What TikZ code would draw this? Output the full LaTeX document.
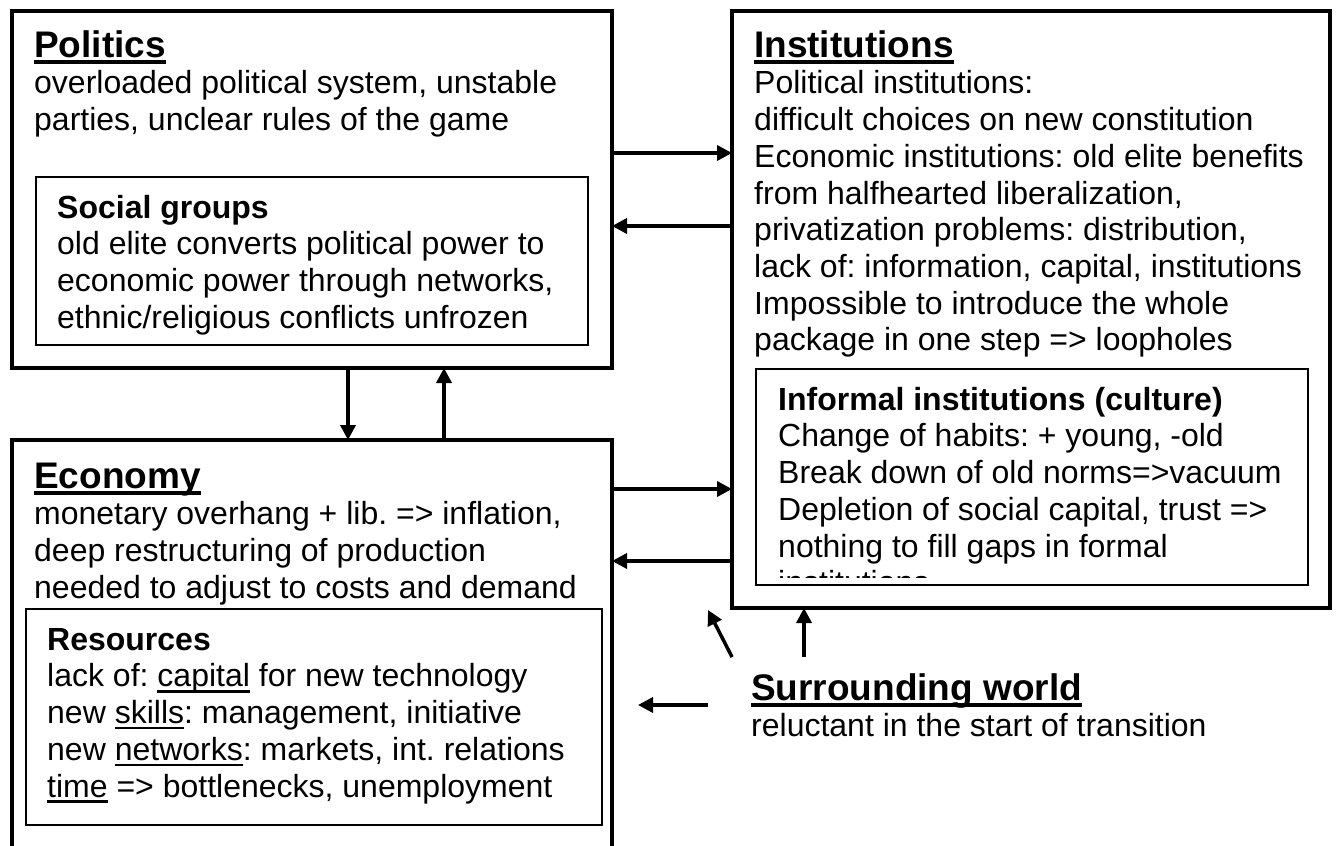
\documentclass[tikz,border=0pt]{standalone}
\usepackage{fontspec}
\setmainfont{Liberation Sans}
\usetikzlibrary{arrows.meta}
\newcommand{\bodyfont}{\fontsize{32pt}{36.7pt}\selectfont\frenchspacing}
\newcommand{\headfont}{\fontsize{37pt}{44pt}\selectfont\bfseries}
\newsavebox{\ulinebox}
\newcommand{\ulword}[3]{\sbox{\ulinebox}{#3}\rlap{\rule[-#1]{\wd\ulinebox}{#2}}\usebox{\ulinebox}}
\newcommand{\heading}[1]{\rule{0pt}{27pt}\ulword{6.75pt}{3.5pt}{\headfont #1}}
\newcommand{\subhead}[1]{\rule{0pt}{24pt}\textbf{#1}}
\newcommand{\ulsmall}[1]{\ulword{5.75pt}{2.5pt}{#1}}
\begin{document}
\begin{tikzpicture}[x=1pt, y=-1pt,
    bigbox/.style={draw, line width=4.5pt, inner sep=0pt, outer sep=0pt, anchor=north west},
    smallbox/.style={draw, line width=2pt, inner sep=0pt, outer sep=0pt, anchor=north west},
    txt/.style={anchor=north west, inner sep=0pt, align=left, font=\bodyfont},
    flow/.style={-{Triangle[length=15pt,width=15pt]}, line width=3.5pt}]
  \useasboundingbox (0,0) rectangle (1337,845);
  \clip (0,0) rectangle (1337,845);
%  \draw[help lines, step=100] (0,0) grid (1337,845);
  \node[bigbox, minimum width=600pt, minimum height=357pt] (pol) at (12,11) {};
  \node[bigbox, minimum width=598pt, minimum height=597pt] (inst) at (732,11) {};
  \node[bigbox, minimum width=600pt, minimum height=460pt] (econ) at (12,440) {};
  \node[smallbox, minimum width=552pt, minimum height=168pt] (soc_groups) at (36,177) {};
  \node[smallbox, minimum width=552pt, minimum height=216pt] (inf_inst) at (756,369) {};
  \node[smallbox, minimum width=576pt, minimum height=216pt] (res) at (26,609) {};

  \node[txt] (pol_txt) at (34,30) {\heading{Politics}\\
    overloaded political system, unstable\\
    parties, unclear rules of the game};
  \node[txt] (soc_txt) at (57,194) {\subhead{Social groups}\\
    old elite converts political power to\\
    economic power through networks,\\
    ethnic/religious conflicts unfrozen};
  \node[txt] (inst_txt) at (754,30) {\heading{Institutions}\\
    Political institutions:\\
    difficult choices on new constitution\\
    Economic institutions: old elite benefits\\
    from halfhearted liberalization,\\
    privatization problems: distribution,\\
    lack of: information, capital, institutions\\
    Impossible to introduce the whole\\
    package in one step => loopholes};
  \begin{scope}
    \clip (756,369) rectangle (1308,577);
    \node[txt] (inf_txt) at (778,386) {\subhead{Informal institutions (culture)}\\
      Change of habits: + young, -old\\
      Break down of old norms=>vacuum\\
      Depletion of social capital, trust =>\\
      nothing to fill gaps in formal\\
      institutions};
  \end{scope}
  \node[txt] (econ_txt) at (34,461) {\heading{Economy}\\
    monetary overhang + lib. => inflation,\\
    deep restructuring of production\\
    needed to adjust to costs and demand};
  \node[txt] (res_txt) at (47,626) {\subhead{Resources}\\
    lack of: \ulsmall{capital} for new technology\\
    new \ulsmall{skills}: management, initiative\\
    new \ulsmall{networks}: markets, int. relations\\
    \ulsmall{time} => bottlenecks, unemployment};
  \node[txt] (world) at (751,673) {\heading{Surrounding world}\\
    reluctant in the start of transition};

  \draw[flow] (pol.east |- 0,153) -- (inst.west |- 0,153);
  \draw[flow] (inst.west |- 0,226) -- (pol.east |- 0,226);
  \draw[flow] (econ.east |- 0,489) -- (inst.west |- 0,489);
  \draw[flow] (inst.west |- 0,561) -- (econ.east |- 0,561);
  \draw[flow] (pol.south -| 348,0) -- (econ.north -| 348,0);
  \draw[flow] (econ.north -| 444,0) -- (pol.south -| 444,0);

  \coordinate (w_diag) at (732,657);
  \coordinate (w_diag_tip) at (708,610);
  \coordinate (w_up) at (804,657);
  \coordinate (w_left) at (708,705);
  \coordinate (w_left_tip) at (638,705);
  \draw[flow] (w_diag) -- (w_diag_tip);
  \draw[flow] (w_up) -- (inst.south -| w_up);
  \draw[flow] (w_left) -- (w_left_tip);
\end{tikzpicture}
\end{document}
